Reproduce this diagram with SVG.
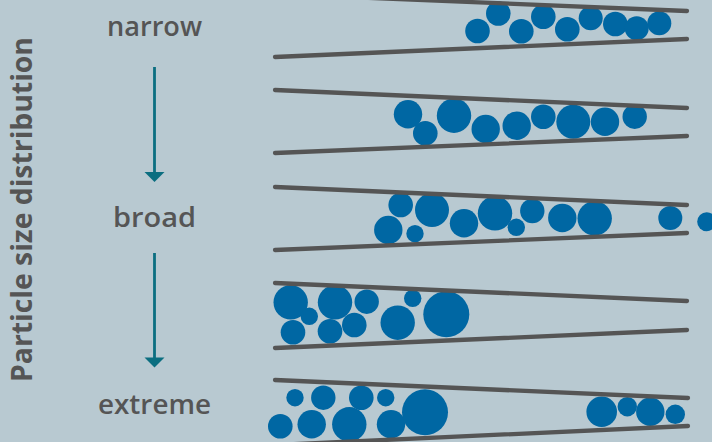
<svg xmlns="http://www.w3.org/2000/svg" width="712" height="442" viewBox="0 0 712 442">
<defs>
<style>
.wall{stroke:#555555;stroke-width:4.3;stroke-linecap:round;fill:none}
.p{fill:#0067a3}
.lbl{font-family:"Open Sans","DejaVu Sans",sans-serif;font-weight:600;fill:#555555;text-anchor:middle}
.ax{font-family:"Open Sans","DejaVu Sans",sans-serif;font-weight:700;fill:#555555;text-anchor:middle}
.arr{stroke:#0b6e80;stroke-width:2.8;fill:none}
.head{fill:#0b6e80}
</style>
</defs>
<rect width="712" height="442" fill="#b8c9d1"/>
<g id="axis-label">
<text class="ax" font-size="28" transform="translate(32,209.5) rotate(-90)" textLength="345" lengthAdjust="spacingAndGlyphs">Particle size distribution</text>
</g>
<g id="label-narrow"><text class="lbl" x="154.5" y="36" font-size="27" textLength="95" lengthAdjust="spacingAndGlyphs">narrow</text></g>
<g id="label-broad"><text class="lbl" x="154.5" y="227" font-size="27" textLength="83" lengthAdjust="spacingAndGlyphs">broad</text></g>
<g id="label-extreme"><text class="lbl" x="154.5" y="414" font-size="27" textLength="113" lengthAdjust="spacingAndGlyphs">extreme</text></g>
<g id="connectors">
<line class="arr" x1="154.5" y1="67" x2="154.5" y2="173"/>
<polygon class="head" points="144.5,172 164.5,172 154.5,182"/>
<line class="arr" x1="154.5" y1="253" x2="154.5" y2="358"/>
<polygon class="head" points="144.5,357.5 164.5,357.5 154.5,367.5"/>
</g>
<g id="panel-1">
<circle class="p" cx="477.5" cy="31" r="12.3"/>
<circle class="p" cx="498.3" cy="13.5" r="12.3"/>
<circle class="p" cx="521.3" cy="31.3" r="12.3"/>
<circle class="p" cx="543.3" cy="16.7" r="12.3"/>
<circle class="p" cx="567.3" cy="29.3" r="12.3"/>
<circle class="p" cx="590.7" cy="18.3" r="12"/>
<circle class="p" cx="615.3" cy="24" r="12.3"/>
<circle class="p" cx="636.7" cy="28.3" r="12"/>
<circle class="p" cx="659.3" cy="23.3" r="12"/>
<line class="wall" x1="275" y1="-6" x2="687" y2="11"/>
<line class="wall" x1="275" y1="57" x2="687" y2="39"/>
</g>
<g id="panel-2">
<circle class="p" cx="408" cy="114.3" r="14.2"/>
<circle class="p" cx="425.3" cy="133.3" r="12.3"/>
<circle class="p" cx="454" cy="115.7" r="17.2"/>
<circle class="p" cx="485.7" cy="129" r="14.2"/>
<circle class="p" cx="516.7" cy="125.7" r="14.2"/>
<circle class="p" cx="543.3" cy="116.7" r="12.3"/>
<circle class="p" cx="573.3" cy="121.7" r="17"/>
<circle class="p" cx="605" cy="121.7" r="14.2"/>
<circle class="p" cx="634.7" cy="116.7" r="12.2"/>
<line class="wall" x1="275" y1="90" x2="687" y2="108"/>
<line class="wall" x1="275" y1="153" x2="687" y2="136"/>
</g>
<g id="panel-3">
<circle class="p" cx="400.7" cy="205" r="12.3"/>
<circle class="p" cx="432" cy="210" r="17"/>
<circle class="p" cx="388.3" cy="230" r="14.2"/>
<circle class="p" cx="415" cy="233.7" r="8.7"/>
<circle class="p" cx="464" cy="223.3" r="14.2"/>
<circle class="p" cx="495" cy="213.3" r="17.2"/>
<circle class="p" cx="516.3" cy="227.3" r="8.7"/>
<circle class="p" cx="532.3" cy="211" r="12.2"/>
<circle class="p" cx="562.3" cy="218" r="14.2"/>
<circle class="p" cx="594.7" cy="218.3" r="17.2"/>
<circle class="p" cx="670.3" cy="218" r="12"/>
<circle class="p" cx="706.7" cy="221.7" r="9.5"/>
<line class="wall" x1="275" y1="187" x2="687" y2="205"/>
<line class="wall" x1="275" y1="250" x2="687" y2="233"/>
</g>
<g id="panel-4">
<circle class="p" cx="290.7" cy="302.3" r="17.2"/>
<circle class="p" cx="309.3" cy="316.3" r="8.7"/>
<circle class="p" cx="293" cy="332.3" r="12.3"/>
<circle class="p" cx="335" cy="302.3" r="17.2"/>
<circle class="p" cx="366.7" cy="301.7" r="12.2"/>
<circle class="p" cx="330" cy="331.3" r="12.3"/>
<circle class="p" cx="354.3" cy="325" r="12.3"/>
<circle class="p" cx="412.7" cy="298.3" r="8.7"/>
<circle class="p" cx="397.7" cy="322.7" r="17.2"/>
<circle class="p" cx="446.3" cy="314.3" r="23"/>
<line class="wall" x1="275" y1="283" x2="687" y2="301"/>
<line class="wall" x1="275" y1="348" x2="687" y2="330"/>
</g>
<g id="panel-5">
<circle class="p" cx="295" cy="397.7" r="8.7"/>
<circle class="p" cx="323.3" cy="397.7" r="12.2"/>
<circle class="p" cx="361.3" cy="397.7" r="12.3"/>
<circle class="p" cx="385.7" cy="397.7" r="8.7"/>
<circle class="p" cx="280.3" cy="426.3" r="12.3"/>
<circle class="p" cx="311.7" cy="424.3" r="14.2"/>
<circle class="p" cx="349.3" cy="424.3" r="17.2"/>
<circle class="p" cx="391" cy="424.3" r="14.2"/>
<circle class="p" cx="425" cy="412.3" r="23"/>
<circle class="p" cx="601.7" cy="411.7" r="15.3"/>
<circle class="p" cx="627.3" cy="406.7" r="9.7"/>
<circle class="p" cx="650.3" cy="411.7" r="14.2"/>
<circle class="p" cx="675.3" cy="414.3" r="9.7"/>
<line class="wall" x1="275" y1="380" x2="688" y2="398"/>
<line class="wall" x1="275" y1="445" x2="688" y2="426"/>
</g>
</svg>
